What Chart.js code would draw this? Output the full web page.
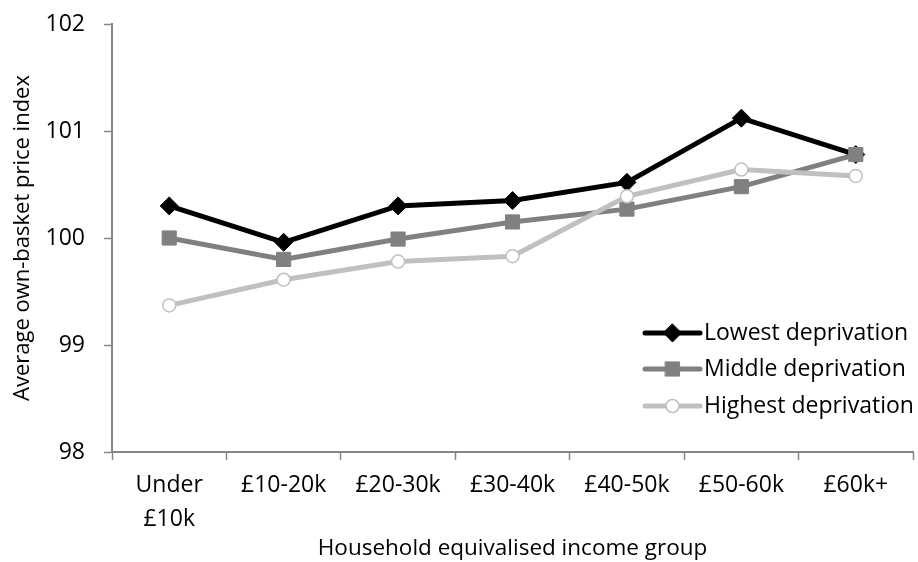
<!DOCTYPE html>
<html>
<head>
<meta charset="utf-8">
<script src="https://cdn.jsdelivr.net/npm/chart.js@4/dist/chart.umd.min.js"></script>
<style>
  html, body { margin: 0; padding: 0; background: #fff; overflow: hidden; }
  #wrap { position: relative; width: 924px; height: 562px; }
</style>
</head>
<body>
<div id="wrap"><canvas id="c" width="924" height="562"></canvas></div>
<script>
// Income groups along the x axis
const categories = [["Under", "£10k"], "£10-20k", "£20-30k", "£30-40k", "£40-50k", "£50-60k", "£60k+"];

// Average own-basket price index by deprivation level
const lowestDeprivation  = [100.30, 99.96, 100.30, 100.35, 100.52, 101.12, 100.78];
const middleDeprivation  = [100.00, 99.80, 99.99, 100.15, 100.27, 100.48, 100.78];
const highestDeprivation = [99.37, 99.61, 99.78, 99.83, 100.39, 100.64, 100.58];

const seriesNames = ["Lowest deprivation", "Middle deprivation", "Highest deprivation"];

const yMin = 98, yMax = 102, yStep = 1;

const FONT = "'Open Sans', Lato, sans-serif";
const AXIS = "#868686";

function drawMarker(ctx, style, r, x, y) {
  ctx.beginPath();
  if (style === "rectRot") {
    ctx.moveTo(x, y - r); ctx.lineTo(x + r, y); ctx.lineTo(x, y + r); ctx.lineTo(x - r, y); ctx.closePath();
  } else if (style === "rect") {
    const s = r * Math.SQRT1_2;
    ctx.rect(x - s, y - s, 2 * s, 2 * s);
  } else {
    ctx.arc(x, y, r, 0, Math.PI * 2);
  }
  ctx.fill();
  ctx.stroke();
}

// Legend drawn inside the plot area, lower right
const insideLegend = {
  id: "insideLegend",
  afterDraw(chart) {
    const ctx = chart.ctx;
    const x0 = 645, x1 = 700, tx = 704;
    const rows = [333, 369, 406];
    ctx.save();
    chart.data.datasets.forEach((ds, i) => {
      const y = rows[i];
      ctx.strokeStyle = ds.borderColor;
      ctx.lineWidth = ds.borderWidth;
      ctx.lineCap = "round";
      ctx.beginPath();
      ctx.moveTo(x0, y);
      ctx.lineTo(x1, y);
      ctx.stroke();
      ctx.fillStyle = ds.pointBackgroundColor;
      ctx.strokeStyle = ds.pointBorderColor;
      ctx.lineWidth = ds.pointBorderWidth;
      drawMarker(ctx, ds.pointStyle, ds.pointRadius, (x0 + x1) / 2, y);
      ctx.fillStyle = "#000";
      ctx.font = "23px " + FONT;
      ctx.textBaseline = "middle";
      ctx.textAlign = "left";
      ctx.fillText(ds.label, tx, y);
    });
    ctx.restore();
  }
};

new Chart(document.getElementById("c"), {
  type: "line",
  data: {
    labels: categories,
    datasets: [
      {
        label: seriesNames[0], data: lowestDeprivation, order: 3,
        borderColor: "#000000", borderWidth: 5,
        pointStyle: "rectRot", pointRadius: 9, pointHoverRadius: 9,
        pointBackgroundColor: "#000000", pointBorderColor: "#000000", pointBorderWidth: 1
      },
      {
        label: seriesNames[1], data: middleDeprivation, order: 2,
        borderColor: "#808080", borderWidth: 5,
        pointStyle: "rect", pointRadius: 10, pointHoverRadius: 10,
        pointBackgroundColor: "#808080", pointBorderColor: "#808080", pointBorderWidth: 1
      },
      {
        label: seriesNames[2], data: highestDeprivation, order: 1,
        borderColor: "#c0c0c0", borderWidth: 5,
        pointStyle: "circle", pointRadius: 6.5, pointHoverRadius: 6.5,
        pointBackgroundColor: "#ffffff", pointBorderColor: "#c0c0c0", pointBorderWidth: 1.5
      }
    ]
  },
  options: {
    responsive: false,
    animation: false,
    devicePixelRatio: 1,
    layout: { padding: { top: 24, left: 0, right: 0, bottom: 0 } },
    plugins: { legend: { display: false }, tooltip: { enabled: false } },
    elements: { line: { tension: 0 } },
    scales: {
      x: {
        offset: true,
        grid: { offset: true, drawOnChartArea: false, color: AXIS, tickLength: 8, tickWidth: 1.5 },
        border: { color: AXIS, width: 2 },
        ticks: { color: "#000", font: { family: FONT, size: 23, lineHeight: 1.45 }, maxRotation: 0, autoSkip: false, padding: 9 },
        title: { display: true, text: "Household equivalised income group", color: "#000", font: { family: FONT, size: 22.5 }, padding: { top: 0, bottom: 0 } },
        afterFit(s) { s.height = 110; }
      },
      y: {
        min: yMin, max: yMax,
        grid: { drawOnChartArea: false, color: AXIS, tickLength: 8, tickWidth: 1.5 },
        border: { color: AXIS, width: 2 },
        ticks: { stepSize: yStep, color: "#000", font: { family: FONT, size: 23, lineHeight: 1 }, padding: 19 },
        title: { display: true, text: "Average own-basket price index", color: "#000", font: { family: FONT, size: 22 }, padding: { top: 10, bottom: 0 } },
        afterFit(s) { s.width = 112; s.paddingTop = 0; s.paddingBottom = 0; }
      }
    }
  },
  plugins: [insideLegend]
});
</script>
</body>
</html>
